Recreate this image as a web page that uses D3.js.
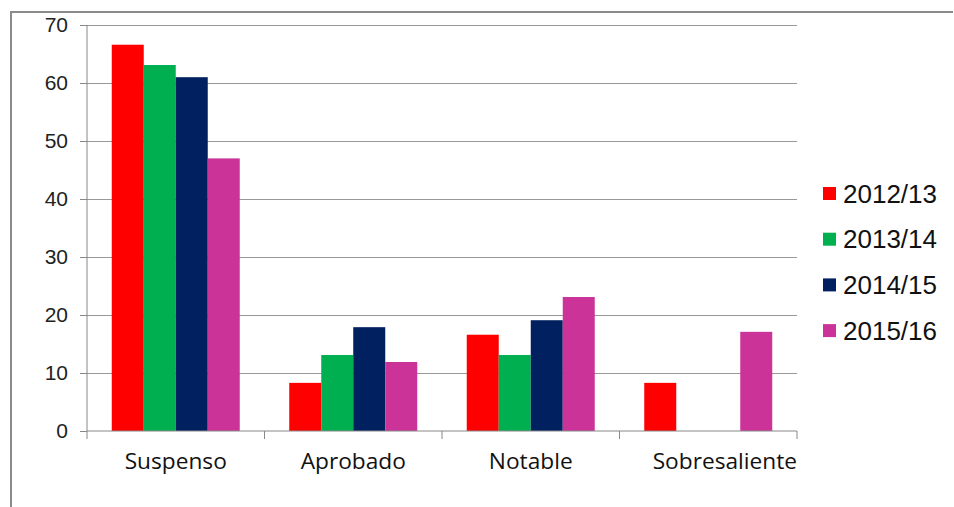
<!DOCTYPE html>
<html><head><meta charset="utf-8">
<script src="https://cdn.jsdelivr.net/npm/d3@7"></script>
<style>body{margin:0;background:#fff}svg{display:block}</style>
</head><body>
<svg id="c" width="954" height="507"></svg>
<script>
const categories = ["Suspenso", "Aprobado", "Notable", "Sobresaliente"];
const seriesNames = ["2012/13", "2013/14", "2014/15", "2015/16"];
const s2012 = [66.6, 8.3, 16.6, 8.3];
const s2013 = [63.1, 13.1, 13.1, 0];
const s2014 = [61.0, 17.9, 19.1, 0];
const s2015 = [47.0, 11.9, 23.1, 17.1];
const yTicks = [0, 10, 20, 30, 40, 50, 60, 70];
const colors = ["#FF0000", "#00B050", "#002060", "#CC3399"];
const seriesValues = [s2012, s2013, s2014, s2015];

const svg = d3.select("#c");
// outer frame
svg.append("path").attr("d", "M11,507 V12 H953").attr("fill", "none").attr("stroke", "#8a8a8a").attr("stroke-width", 2);

const x0 = d3.scaleBand().domain(categories).range([87, 797]).paddingInner(0).paddingOuter(0);
const inner = 128 / 177.5;
const x1 = d3.scaleBand().domain(seriesNames).range([0, x0.bandwidth() * inner]);
const y = d3.scaleLinear().domain([0, 70]).range([431, 25]);

// gridlines
svg.append("g").selectAll("line").data(yTicks.filter(d => d > 0)).join("line")
  .attr("x1", 87).attr("x2", 797).attr("y1", d => y(d)).attr("y2", d => y(d))
  .attr("stroke", "#999").attr("stroke-width", 1).attr("shape-rendering", "crispEdges");

// bars
const groups = svg.append("g").selectAll("g").data(categories).join("g")
  .attr("transform", c => `translate(${x0(c) + (x0.bandwidth() * (1 - inner)) / 2},0)`);
groups.selectAll("rect").data((c, i) => seriesNames.map((s, j) => ({s, v: seriesValues[j][i], j})))
  .join("rect")
  .attr("x", d => x1(d.s)).attr("width", x1.bandwidth())
  .attr("y", d => y(d.v)).attr("height", d => y(0) - y(d.v))
  .attr("fill", d => colors[d.j]);

// y axis
const yAxis = svg.append("g").attr("transform", "translate(87,0)")
  .call(d3.axisLeft(y).tickValues(yTicks).tickSize(7).tickPadding(12));
yAxis.select(".domain").attr("stroke", "#888").attr("d", "M0,25V431");
yAxis.selectAll(".tick line").attr("stroke", "#888");
yAxis.selectAll("text").attr("font-family", "'Liberation Sans', Arial, sans-serif").attr("font-size", 21).attr("fill", "#222");

// x axis
const xAxis = svg.append("g").attr("transform", "translate(0,431)")
  .call(d3.axisBottom(x0).tickSize(0).tickPadding(0));
xAxis.select(".domain").attr("stroke", "#888").attr("d", "M87,0H797");
xAxis.selectAll(".tick line").remove();
xAxis.selectAll(".tick text").attr("font-family", "'Open Sans', sans-serif").attr("font-size", 22.7).attr("fill", "#111")
  .attr("y", 38).attr("dy", 0)
  .each(function (d, i, nodes) {
    if (i === nodes.length - 1) {
      d3.select(this).attr("text-anchor", "end").attr("x", 797 - (x0(d) + x0.bandwidth() / 2));
    }
  });
const bounds = [87, 264.5, 442, 619.5, 797];
xAxis.append("g").selectAll("line").data(bounds).join("line")
  .attr("x1", d => d).attr("x2", d => d).attr("y1", 0).attr("y2", 8).attr("stroke", "#888");

// legend
const legend = svg.append("g").selectAll("g").data(seriesNames).join("g")
  .attr("transform", (d, i) => `translate(823,${193.5 + i * 45.7})`);
legend.append("rect").attr("x", 0).attr("y", -6.5).attr("width", 13).attr("height", 13).attr("fill", (d, i) => colors[i]);
legend.append("text").attr("x", 20).attr("y", 0).attr("dy", "0.35em")
  .attr("font-family", "'Liberation Sans', Arial, sans-serif").attr("font-size", 26).attr("fill", "#111")
  .text(d => d);
</script>
</body></html>
